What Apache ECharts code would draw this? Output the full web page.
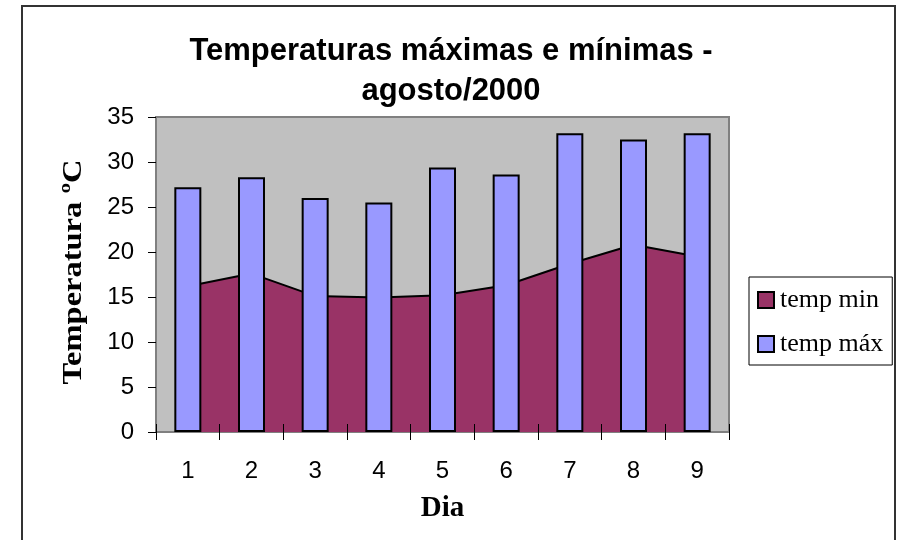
<!DOCTYPE html>
<html>
<head>
<meta charset="utf-8">
<script src="https://cdn.jsdelivr.net/npm/echarts@6/dist/echarts.min.js"></script>
<style>
  html, body { margin: 0; padding: 0; background: #fff; }
  #chart { width: 899px; height: 540px; }
</style>
</head>
<body>
<div id="chart"></div>
<script>
// Daily temperatures, August 2000
const days = ['1', '2', '3', '4', '5', '6', '7', '8', '9'];
const tempMin = [16.2, 17.6, 15.1, 14.95, 15.2, 16.3, 18.7, 20.8, 19.5];
const tempMax = [27.2, 28.3, 26.0, 25.5, 29.4, 28.6, 33.2, 32.5, 33.2];
const yTicks = { min: 0, max: 35, step: 5 };

const chart = echarts.init(document.getElementById('chart'), null, { renderer: 'canvas' });

const sans = '"Liberation Sans", Arial, sans-serif';
const serif = '"Liberation Serif", "Times New Roman", serif';

const gridBox = { left: 156, top: 117, right: 170, bottom: 108 };
const plotHeight = 540 - gridBox.top - gridBox.bottom;

chart.setOption({
  animation: false,
  backgroundColor: '#ffffff',
  title: {
    text: 'Temperaturas máximas e mínimas -\nagosto/2000',
    left: 446,
    top: 26,
    textAlign: 'center',
    textStyle: {
      fontFamily: sans,
      fontWeight: 'bold',
      fontSize: 31,
      lineHeight: 40,
      color: '#000'
    }
  },
  graphic: [
    {
      // outer chart frame
      type: 'rect',
      shape: { x: 22, y: 6, width: 873, height: 560 },
      style: { fill: 'none', stroke: '#333333', lineWidth: 2 },
      z: -1,
      silent: true
    },
    {
      // value axis title, slightly elongated
      type: 'text',
      x: 74,
      y: 272,
      rotation: Math.PI / 2,
      scaleX: 1.16,
      style: {
        text: 'Temperatura ºC',
        font: 'bold 28px ' + serif,
        fill: '#000',
        align: 'center',
        verticalAlign: 'middle'
      },
      silent: true
    }
  ],
  legend: {
    orient: 'vertical',
    left: 749,
    top: 277,
    padding: [10, 9, 8, 8],
    itemGap: 18,
    itemWidth: 16,
    itemHeight: 16,
    borderColor: '#000',
    borderWidth: 1,
    backgroundColor: '#fff',
    textStyle: { fontFamily: serif, fontSize: 26, lineHeight: 26, color: '#000', padding: [0, 0, 0, 1] },
    data: [
      { name: 'temp min', icon: 'rect', itemStyle: { color: '#993366', borderColor: '#000', borderWidth: 2 } },
      { name: 'temp máx', icon: 'rect', itemStyle: { color: '#9999FF', borderColor: '#000', borderWidth: 2 } }
    ]
  },
  grid: {
    left: gridBox.left,
    top: gridBox.top,
    right: gridBox.right,
    bottom: gridBox.bottom,
    show: true,
    backgroundColor: '#C0C0C0',
    borderColor: '#808080',
    borderWidth: 2
  },
  xAxis: [
    {
      type: 'category',
      data: days,
      boundaryGap: true,
      position: 'bottom',
      name: 'Dia',
      nameLocation: 'middle',
      nameGap: 62,
      nameTextStyle: { fontFamily: serif, fontWeight: 'bold', fontSize: 29, color: '#000' },
      axisLine: { show: true, lineStyle: { color: '#808080', width: 2 } },
      axisTick: { show: true, length: 8, lineStyle: { color: '#000', width: 1 } },
      axisLabel: { fontFamily: sans, fontSize: 24, color: '#000', margin: 27 }
    },
    {
      // upper half of the crossing tick marks, laid on the baseline above the marks
      type: 'category',
      data: days,
      position: 'top',
      offset: -plotHeight,
      boundaryGap: true,
      z: 10,
      axisLine: { show: false },
      axisTick: { show: true, inside: false, length: 8, lineStyle: { color: '#000', width: 1 } },
      axisLabel: { show: false },
      splitLine: { show: false }
    }
  ],
  yAxis: {
    type: 'value',
    min: yTicks.min,
    max: yTicks.max,
    interval: yTicks.step,
    axisLine: { show: true, lineStyle: { color: '#808080', width: 2 } },
    axisTick: { show: true, length: 8, lineStyle: { color: '#000', width: 1 } },
    axisLabel: { fontFamily: sans, fontSize: 24, color: '#000', margin: 22 },
    splitLine: { show: false }
  },
  series: [
    {
      name: 'temp min',
      type: 'line',
      data: tempMin,
      symbol: 'none',
      lineStyle: { color: '#000', width: 2 },
      itemStyle: { color: '#993366' },
      areaStyle: { color: '#993366', opacity: 1 },
      z: 2
    },
    {
      name: 'temp máx',
      type: 'bar',
      data: tempMax,
      barWidth: 27,
      itemStyle: { color: '#9999FF', borderColor: '#000', borderWidth: 2 },
      z: 3
    }
  ]
});
</script>
</body>
</html>
